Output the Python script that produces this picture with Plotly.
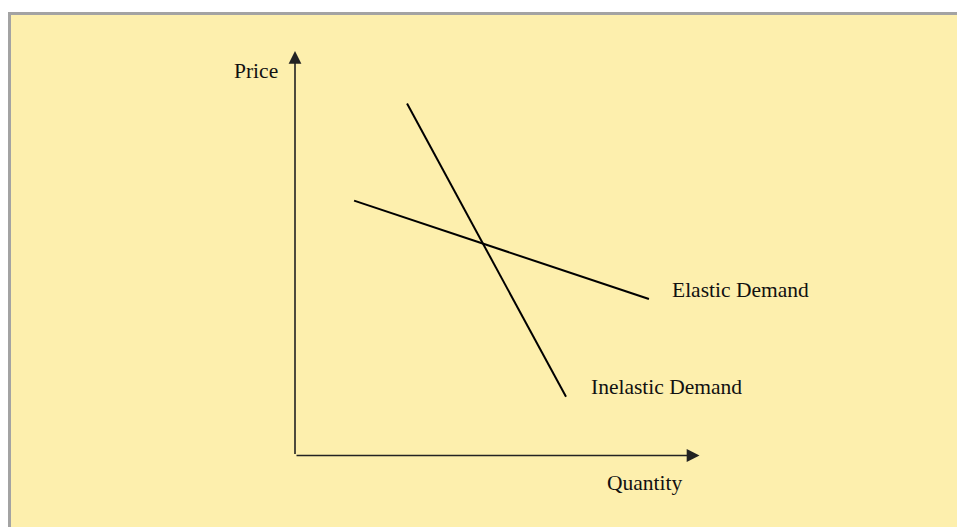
import plotly.graph_objects as go

# Demand curves (quantity, price) on a 0-10 conceptual scale
inelastic_q = [2.77, 6.70]
inelastic_p = [8.70, 1.45]
elastic_q = [1.46, 8.75]
elastic_p = [6.30, 3.87]

curve_labels = ["Inelastic Demand", "Elastic Demand"]
axis_labels = ["Quantity", "Price"]

W, H = 957, 527
X0, X1 = 295, 699.5   # pixel span of the quantity axis
Y0, Y1 = 455.5, 51    # pixel span of the price axis

BG = "#FDEFAD"
FONT = "Liberation Serif, Times New Roman, serif"


def to_paper(q, p):
    """Convert (quantity, price) on the 0-10 scale into paper coordinates."""
    px = X0 + q * (X1 - X0) / 10
    py = Y0 + p * (Y1 - Y0) / 10
    return px / W, 1 - py / H


fig = go.Figure()

for q, p in [(inelastic_q, inelastic_p), (elastic_q, elastic_p)]:
    fig.add_trace(go.Scatter(x=q, y=p, mode="lines",
                             line=dict(color="#000000", width=2),
                             hoverinfo="skip", showlegend=False))

# Axes drawn as arrows from the origin
arrow = dict(showarrow=True, xref="x", yref="y", axref="x", ayref="y",
             text="", arrowhead=2, arrowsize=1.6, arrowwidth=1.6,
             arrowcolor="#222222", ax=0, ay=0, standoff=0, startstandoff=0)
fig.add_annotation(x=10, y=0, **arrow)
fig.add_annotation(x=0, y=10, **arrow)

txt = dict(showarrow=False, xref="paper", yref="paper",
           font=dict(family=FONT, size=21.5, color="#111111"))
for label, (q, p), anchor in [
    (axis_labels[1], (-0.96, 9.5), "center"),
    (axis_labels[0], (8.65, -0.69), "center"),
    (curve_labels[1], (9.28, 4.08), "left"),
    (curve_labels[0], (7.26, 1.70), "left"),
]:
    xp, yp = to_paper(q, p)
    fig.add_annotation(x=xp, y=yp, text=label, xanchor=anchor, yanchor="middle", **txt)

# Yellow panel with grey frame (extends past the right/bottom edges)
fig.add_shape(type="rect", xref="paper", yref="paper",
              x0=9.5 / W, x1=1.05, y0=-0.05, y1=1 - 13.5 / H,
              fillcolor=BG, line=dict(color="#A3A3A3", width=3), layer="below")

fig.update_layout(
    width=W, height=H,
    margin=dict(l=0, r=0, t=0, b=0),
    paper_bgcolor="#FFFFFF",
    plot_bgcolor="rgba(0,0,0,0)",
    xaxis=dict(domain=[X0 / W, X1 / W], range=[0, 10], visible=False, fixedrange=True),
    yaxis=dict(domain=[1 - Y0 / H, 1 - Y1 / H], range=[0, 10], visible=False, fixedrange=True),
)

fig.write_html("out.html")
